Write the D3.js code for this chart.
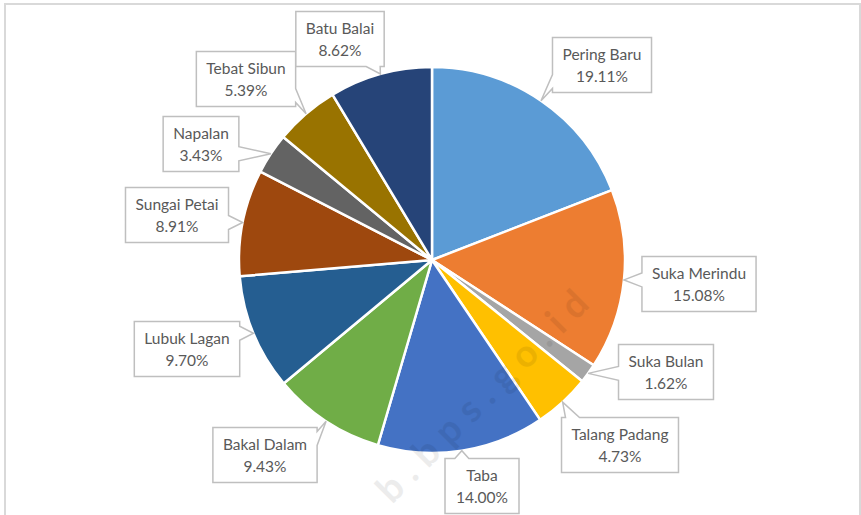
<!DOCTYPE html>
<html>
<head>
<meta charset="utf-8">
<script src="https://cdn.jsdelivr.net/npm/d3@7"></script>
<style>
  body { margin: 0; background: #fff; }
  text { font-family: Lato, "Open Sans", sans-serif; }
</style>
</head>
<body>
<svg width="861" height="515"></svg>
<script>
// data, clockwise from 12 o'clock
const categories = ["Pering Baru", "Suka Merindu", "Suka Bulan", "Talang Padang", "Taba",
  "Bakal Dalam", "Lubuk Lagan", "Sungai Petai", "Napalan", "Tebat Sibun", "Batu Balai"];
const shares = [19.11, 15.08, 1.62, 4.73, 14.00, 9.43, 9.70, 8.91, 3.43, 5.39, 8.62];
const colors = ["#5B9BD5", "#ED7D31", "#A5A5A5", "#FFC000", "#4472C4",
  "#70AD47", "#255E91", "#9E480E", "#636363", "#997300", "#264478"];

// where each callout box sits (box centre)
const labelPos = [[602, 65], [699, 284], [666, 372], [620, 445], [482, 486],
  [265, 455], [187, 349], [177, 215], [201, 144], [246, 79], [340, 39]];

var cx = 432, cy = 260, radius = 193;

var svg = d3.select("svg");

// chart frame
svg.append("rect")
    .attr("x", 5).attr("y", 4)
    .attr("width", 855).attr("height", 530)
    .attr("fill", "#fff")
    .attr("stroke", "#d9d9d9")
    .attr("stroke-width", 2);

var pie = d3.pie().sort(null).value(d => d);
var arc = d3.arc().innerRadius(0).outerRadius(radius);

var color = d3.scaleOrdinal().domain(categories).range(colors);

var g = svg.append("g").attr("transform", "translate(" + cx + "," + cy + ")");

var arcs = pie(shares);

g.selectAll("path.slice")
    .data(arcs)
    .enter()
    .append("path")
    .attr("class", "slice")
    .attr("d", arc)
    .attr("fill", (d, i) => color(categories[i]))
    .attr("stroke", "#fff")
    .attr("stroke-width", 2.5)
    .attr("stroke-linejoin", "round");

// faint watermark
svg.append("text")
    .attr("transform", "translate(392,505) rotate(-45)")
    .attr("font-size", 38)
    .attr("font-weight", "bold")
    .attr("fill", "#000")
    .attr("opacity", 0.07)
    .attr("letter-spacing", 10)
    .text("b.bps.go.id");

// callout boxes
var boxH = 55, pad = 10;
var labels = svg.append("g");

arcs.forEach(function (d, i) {
  var mid = (d.startAngle + d.endAngle) / 2;
  var ax = cx + radius * Math.sin(mid);
  var ay = cy - radius * Math.cos(mid);

  var lg = labels.append("g");
  var t1 = lg.append("text")
      .attr("text-anchor", "middle")
      .attr("font-size", 15.5)
      .attr("fill", "#595959")
      .attr("x", labelPos[i][0])
      .attr("y", labelPos[i][1] - 5)
      .text(categories[i]);
  lg.append("text")
      .attr("text-anchor", "middle")
      .attr("font-size", 15.5)
      .attr("fill", "#595959")
      .attr("x", labelPos[i][0])
      .attr("y", labelPos[i][1] + 17)
      .text(d3.format(".2f")(shares[i]) + "%");

  var tw = Math.max(t1.node().getComputedTextLength(), 54);
  var w = tw + pad * 2;
  var x0 = labelPos[i][0] - w / 2, x1 = labelPos[i][0] + w / 2;
  var y0 = labelPos[i][1] - boxH / 2, y1 = labelPos[i][1] + boxH / 2;

  // which side the tail leaves from
  var dx = ax < x0 ? x0 - ax : (ax > x1 ? ax - x1 : 0);
  var dy = ay < y0 ? y0 - ay : (ay > y1 ? ay - y1 : 0);
  var half = 7;
  var pts = [];
  if (dy >= dx * 0.8) {
    var px = Math.max(x0 + half + 4, Math.min(x1 - half - 4, ax));
    if (ay > y1) {
      pts = [[x0, y0], [x1, y0], [x1, y1], [px + half, y1], [ax, ay], [px - half, y1], [x0, y1]];
    } else {
      pts = [[x0, y0], [px - half, y0], [ax, ay], [px + half, y0], [x1, y0], [x1, y1], [x0, y1]];
    }
  } else {
    var py = Math.max(y0 + half + 4, Math.min(y1 - half - 4, ay));
    if (ax > x1) {
      pts = [[x0, y0], [x1, y0], [x1, py - half], [ax, ay], [x1, py + half], [x1, y1], [x0, y1]];
    } else {
      pts = [[x0, y0], [x1, y0], [x1, y1], [x0, y1], [x0, py + half], [ax, ay], [x0, py - half]];
    }
  }
  lg.insert("path", "text")
      .attr("d", d3.line()(pts) + "Z")
      .attr("fill", "#fff")
      .attr("stroke", "#bfbfbf")
      .attr("stroke-width", 1.5);
});
</script>
</body>
</html>
